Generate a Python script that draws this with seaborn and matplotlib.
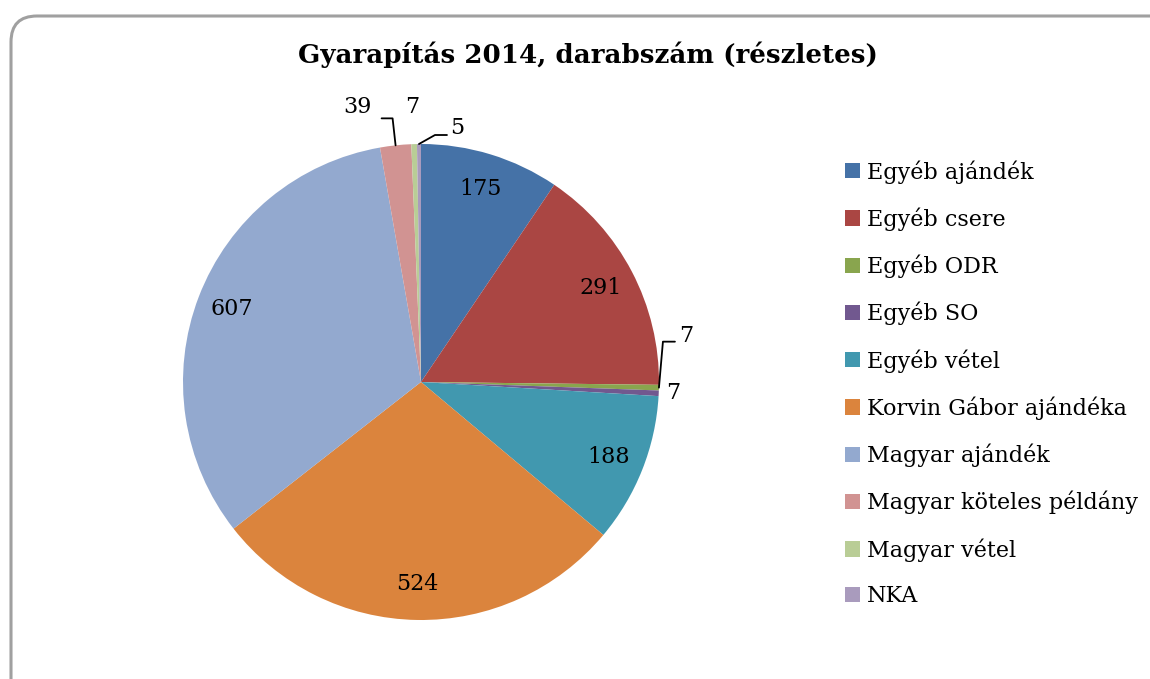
import numpy as np
import seaborn as sns
import matplotlib.pyplot as plt
from matplotlib.patches import FancyBboxPatch

categories = ['Egyéb ajándék', 'Egyéb csere', 'Egyéb ODR', 'Egyéb SO', 'Egyéb vétel',
              'Korvin Gábor ajándéka', 'Magyar ajándék', 'Magyar köteles példány',
              'Magyar vétel', 'NKA']
values = [175, 291, 7, 7, 188, 524, 607, 39, 7, 5]
colors = ['#4572A7', '#AA4643', '#89A54E', '#71588F', '#4198AF',
          '#DB843D', '#93A9CF', '#D19392', '#B9CD96', '#A99BBD']
title = 'Gyarapítás 2014, darabszám (részletes)'

sns.set_theme(style='white')
plt.rcParams['font.family'] = ['DejaVu Serif']
plt.rcParams['text.color'] = 'black'

W, H = 1150, 679
fig = plt.figure(figsize=(W / 100, H / 100), dpi=100)

# rounded frame, cut off at the right and bottom like the original
frame = FancyBboxPatch((11, -40), 1200, 663 + 40, boxstyle='round,pad=0,rounding_size=26',
                       transform=None, fill=False, edgecolor='#a0a0a0', linewidth=2.2)
fig.patches.append(frame)

cx, cy, R = 421, 382, 238
ax = fig.add_axes([(cx - R) / W, (H - cy - R) / H, 2 * R / W, 2 * R / H])

total = sum(values)


def fmt(pct):
    v = int(round(pct * total / 100))
    return '' if v < 50 else str(v)


wedges, _, autotexts = ax.pie(values, colors=colors, startangle=90, counterclock=False,
                              autopct=fmt, pctdistance=0.85, radius=1,
                              wedgeprops=dict(linewidth=0),
                              textprops=dict(fontsize=16, color='black'))
ax.set_xlim(-1, 1)
ax.set_ylim(-1, 1)
ax.set_aspect('auto')
ax.axis('off')

# outside labels for the thin slices: text offset and optional elbow leader (pixels)
px = 1 / R
outside = {
    2: dict(text=(27, 52), line=[(4, 46), (16, 46)]),
    3: dict(text=(14, 0), line=None),
    7: dict(text=(-38, 38), line=[(-3, 27), (-14, 27)]),
    8: dict(text=(-2, 37), line=None),
    9: dict(text=(38, 16), line=[(16, 9), (28, 9)]),
}
for i, opt in outside.items():
    w = wedges[i]
    ang = np.deg2rad((w.theta1 + w.theta2) / 2)
    x0, y0 = np.cos(ang), np.sin(ang)
    if opt['line']:
        xs = [x0] + [x0 + dx * px for dx, dy in opt['line']]
        ys = [y0] + [y0 + dy * px for dx, dy in opt['line']]
        ax.plot(xs, ys, color='black', linewidth=1.3, clip_on=False)
    tx, ty = opt['text']
    ax.text(x0 + tx * px, y0 + ty * px, str(values[i]), fontsize=16,
            ha='center', va='center', clip_on=False)

fig.text(588 / W, 1 - 55 / H, title, ha='center', va='center', fontsize=18.8,
         fontweight='bold', color='black')

leg = fig.legend(wedges, categories, loc='upper left', bbox_to_anchor=(845 / W, 1 - 160 / H),
                 frameon=False, fontsize=16, handlelength=0.68, handleheight=0.68,
                 handletextpad=0.3, labelspacing=1.07, borderpad=0, borderaxespad=0)
for t in leg.get_texts():
    t.set_color('black')

fig.savefig('out.png', dpi=100)
